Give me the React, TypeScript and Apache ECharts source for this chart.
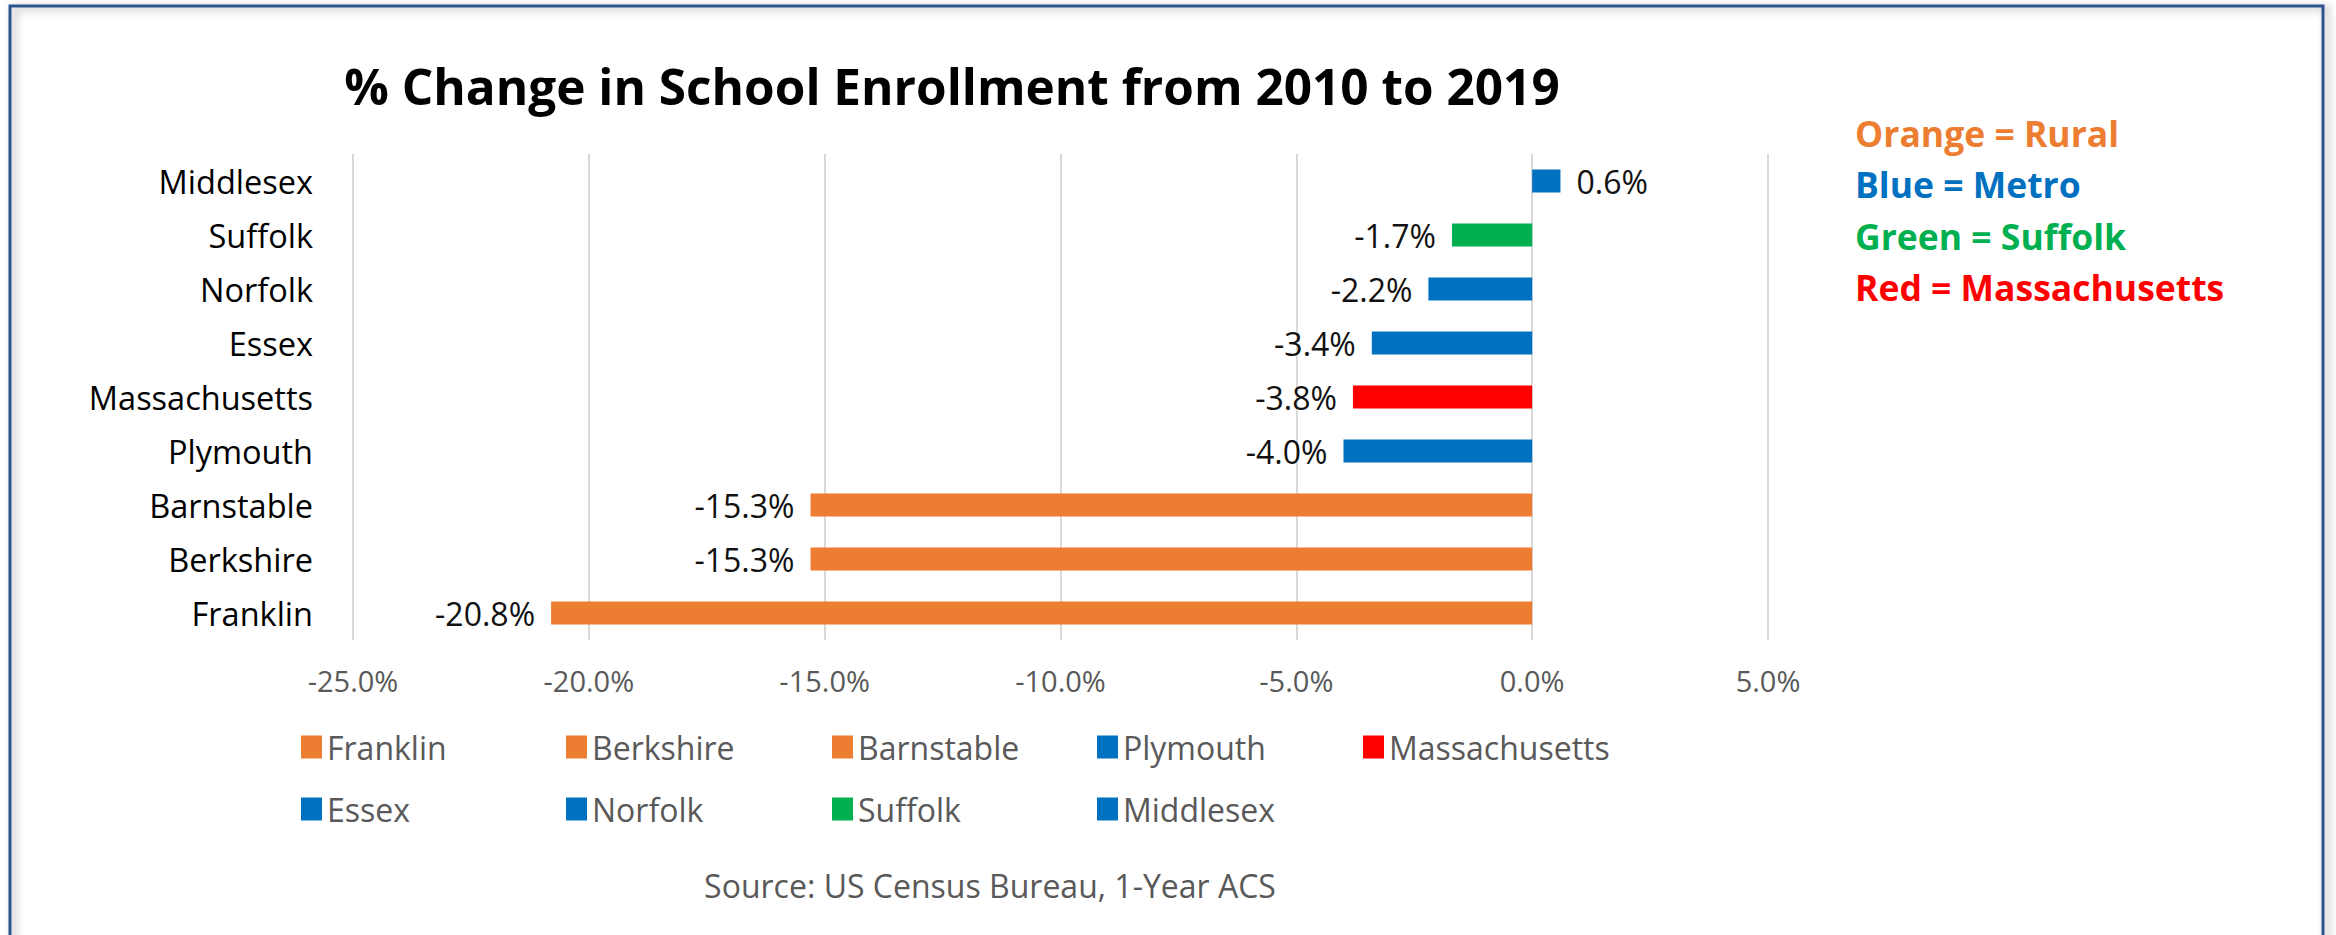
import React, { useEffect, useRef } from "react";
import * as echarts from "echarts";

const categories = ["Franklin", "Berkshire", "Barnstable", "Plymouth", "Massachusetts", "Essex", "Norfolk", "Suffolk", "Middlesex"];
const values = [-20.8, -15.3, -15.3, -4.0, -3.8, -3.4, -2.2, -1.7, 0.6];
const colors = ["#ED7D31", "#ED7D31", "#ED7D31", "#0070C0", "#FF0000", "#0070C0", "#0070C0", "#00B050", "#0070C0"];
const xMin = -25;
const xMax = 5;
const xStep = 5;
const titleText = "% Change in School Enrollment from 2010 to 2019";
const keyLines = ["Orange = Rural", "Blue = Metro", "Green = Suffolk", "Red = Massachusetts"];
const keyColors = ["#ED7D31", "#0070C0", "#00B050", "#FF0000"];
const sourceText = "Source: US Census Bureau, 1-Year ACS";

const FONT = "'Open Sans', 'Noto Sans', sans-serif";

export default function App() {
  const ref = useRef<HTMLDivElement>(null);
  useEffect(() => {
    if (!ref.current) return;
    const chart = echarts.init(ref.current, null, { renderer: "svg" });

    const series = categories.map((name, i) => ({
      name,
      type: "bar",
      stack: "total",
      barWidth: 23,
      itemStyle: { color: colors[i] },
      label: {
        show: true,
        position: values[i] < 0 ? "left" : "right",
        distance: 16,
        formatter: (p: any) => (p.value == null ? "" : Number(p.value).toFixed(1) + "%"),
        fontSize: 32,
        color: "#111111",
        fontFamily: FONT,
      },
      data: categories.map((_, j) => (j === i ? values[i] : null)),
    }));

    // legend placement: two rows, fixed columns
    const colX = [301, 566, 832, 1097, 1363];
    const rowY = [731, 793];
    const legends = categories.map((name, i) => ({
      data: [name],
      left: colX[i % 5],
      top: rowY[Math.floor(i / 5)],
      padding: 0,
      itemWidth: 21,
      itemHeight: 23,
      icon: "rect",
      selectedMode: false,
      textStyle: { fontSize: 32, color: "#595959", fontFamily: FONT },
    }));

    const graphics: any[] = [
      {
        type: "rect",
        shape: { x: 10, y: 6, width: 2313, height: 1000 },
        style: { fill: "none", stroke: "#2F528F", lineWidth: 3, shadowBlur: 8, shadowOffsetX: 4, shadowOffsetY: 2, shadowColor: "rgba(0,0,0,0.35)" },
        silent: true,
      },
      {
        type: "text",
        x: 952,
        y: 86,
        style: { text: titleText, fontSize: 49.5, fontWeight: "bold", fill: "#000000", fontFamily: FONT, textAlign: "center", textVerticalAlign: "middle" },
      },
      ...keyLines.map((t, i) => ({
        type: "text",
        x: 1855,
        y: [133, 184, 236, 287][i],
        style: { text: t, fontSize: 35.5, fontWeight: "bold", fill: keyColors[i], fontFamily: FONT, textAlign: "left", textVerticalAlign: "middle" },
      })),
      {
        type: "text",
        x: 990,
        y: 885,
        style: { text: sourceText, fontSize: 32, fill: "#595959", fontFamily: FONT, textAlign: "center", textVerticalAlign: "middle" },
      },
    ];

    chart.setOption({
      animation: false,
      backgroundColor: "#ffffff",
      textStyle: { fontFamily: FONT },
      grid: { left: 353, right: 568, top: 154, bottom: 295, containLabel: false },
      xAxis: {
        type: "value",
        min: xMin,
        max: xMax,
        interval: xStep,
        axisLine: { show: false },
        axisTick: { show: false },
        splitLine: { show: true, lineStyle: { color: "#D9D9D9", width: 2 } },
        axisLabel: {
          formatter: (v: number) => v.toFixed(1) + "%",
          fontSize: 29,
          color: "#595959",
          margin: 26,
          fontFamily: FONT,
        },
      },
      yAxis: {
        type: "category",
        data: categories,
        axisLine: { show: false },
        axisTick: { show: false },
        axisLabel: { fontSize: 32.5, color: "#000000", margin: 40, fontFamily: FONT },
      },
      legend: legends,
      series,
      graphic: graphics,
    });

    return () => chart.dispose();
  }, []);

  return <div ref={ref} style={{ position: "fixed", left: 0, top: 0, width: 2336, height: 935 }} />;
}
